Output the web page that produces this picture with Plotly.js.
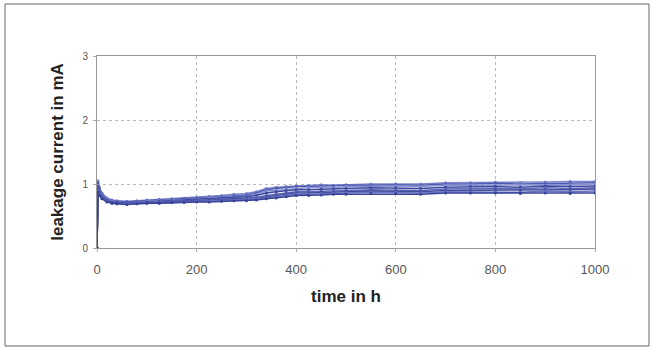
<!DOCTYPE html>
<html><head><meta charset="utf-8">
<script src="https://cdn.plot.ly/plotly-3.0.1.min.js"></script>
<style>html,body{margin:0;padding:0;background:#fff;}#chart{width:654px;height:349px;}</style>
</head><body><div id="chart"></div>
<script>
var timeH = [0, 2, 5, 10, 20, 30, 40, 60, 80, 100, 125, 150, 175, 200, 225, 250, 275, 300, 320, 340, 360, 380, 400, 425, 450, 475, 500, 550, 600, 650, 700, 750, 800, 850, 900, 950, 1000];
var sampleA = [0, 1.05, 0.95, 0.86, 0.78, 0.75, 0.74, 0.73, 0.74, 0.75, 0.76, 0.77, 0.78, 0.79, 0.81, 0.82, 0.84, 0.85, 0.88, 0.93, 0.95, 0.96, 0.97, 0.98, 0.99, 0.98, 0.99, 1.00, 1.00, 1.00, 1.02, 1.02, 1.03, 1.02, 1.03, 1.04, 1.04];
var sampleB = [0, 1.02, 0.92, 0.84, 0.77, 0.74, 0.73, 0.72, 0.73, 0.74, 0.75, 0.76, 0.77, 0.78, 0.79, 0.80, 0.82, 0.83, 0.86, 0.91, 0.93, 0.94, 0.96, 0.96, 0.97, 0.97, 0.98, 0.98, 0.99, 0.98, 1.00, 1.00, 1.01, 1.00, 1.01, 1.02, 1.02];
var sampleC = [0, 0.98, 0.90, 0.82, 0.76, 0.73, 0.72, 0.71, 0.72, 0.73, 0.74, 0.75, 0.75, 0.77, 0.78, 0.79, 0.80, 0.81, 0.84, 0.89, 0.90, 0.92, 0.93, 0.94, 0.95, 0.94, 0.96, 0.96, 0.97, 0.96, 0.98, 0.98, 0.98, 0.99, 0.98, 0.99, 1.00];
var sampleD = [0, 0.96, 0.88, 0.81, 0.75, 0.72, 0.71, 0.71, 0.71, 0.72, 0.73, 0.74, 0.74, 0.76, 0.76, 0.78, 0.79, 0.80, 0.82, 0.86, 0.88, 0.90, 0.91, 0.91, 0.92, 0.92, 0.93, 0.94, 0.94, 0.93, 0.95, 0.96, 0.96, 0.95, 0.97, 0.96, 0.97];
var sampleE = [0, 0.94, 0.86, 0.80, 0.74, 0.71, 0.70, 0.70, 0.71, 0.72, 0.72, 0.73, 0.74, 0.75, 0.75, 0.76, 0.77, 0.78, 0.79, 0.82, 0.84, 0.86, 0.88, 0.88, 0.89, 0.90, 0.90, 0.91, 0.91, 0.90, 0.92, 0.93, 0.93, 0.92, 0.94, 0.93, 0.94];
var sampleF = [0, 0.92, 0.85, 0.79, 0.74, 0.71, 0.70, 0.70, 0.70, 0.71, 0.71, 0.72, 0.73, 0.74, 0.74, 0.75, 0.76, 0.76, 0.77, 0.80, 0.82, 0.84, 0.86, 0.86, 0.87, 0.87, 0.88, 0.89, 0.89, 0.88, 0.90, 0.90, 0.91, 0.90, 0.91, 0.91, 0.92];
var sampleG = [0, 0.90, 0.84, 0.78, 0.73, 0.70, 0.69, 0.69, 0.70, 0.70, 0.70, 0.71, 0.72, 0.73, 0.73, 0.74, 0.75, 0.75, 0.76, 0.78, 0.80, 0.82, 0.84, 0.84, 0.85, 0.86, 0.86, 0.87, 0.87, 0.86, 0.88, 0.88, 0.88, 0.87, 0.89, 0.88, 0.89];
var sampleH = [0, 0.88, 0.82, 0.77, 0.72, 0.70, 0.69, 0.68, 0.69, 0.70, 0.70, 0.71, 0.71, 0.72, 0.72, 0.73, 0.74, 0.74, 0.75, 0.77, 0.78, 0.80, 0.82, 0.82, 0.83, 0.84, 0.84, 0.85, 0.85, 0.84, 0.86, 0.86, 0.86, 0.85, 0.86, 0.85, 0.86];
var seriesList = [sampleA, sampleB, sampleC, sampleD, sampleE, sampleF, sampleG, sampleH];
var colors = ['#7c84cc', '#4f5bb0', '#8890d2', '#3c48a0', '#5d67b8', '#404c9e', '#6a73bf', '#36429a'];
var xTicks = [0, 200, 400, 600, 800, 1000];
var yTicks = [0, 1, 2, 3];

var traces = seriesList.map(function (s, i) {
  return {x: timeH, y: s, type: 'scatter', mode: 'lines+markers',
    line: {color: colors[i], width: 1.5}, marker: {size: 3, color: colors[i]}, showlegend: false, hoverinfo: 'skip'};
});

var layout = {
  width: 654, height: 349,
  margin: {l: 97, r: 59, t: 56, b: 101},
  paper_bgcolor: '#ffffff', plot_bgcolor: '#ffffff',
  font: {family: 'Liberation Sans, Arial, sans-serif', color: '#444'},
  xaxis: {range: [0, 1000], tickvals: xTicks, ticktext: xTicks.map(String),
    showgrid: true, gridcolor: '#b8b8b8', griddash: 'dot', gridwidth: 1,
    showline: true, linecolor: '#999', linewidth: 1, mirror: true, zeroline: false,
    ticks: 'outside', ticklen: 3, tickcolor: '#aaa', ticklabelstandoff: 6, tickfont: {size: 13, color: '#555'},
    title: {text: '<b>time in h</b>', font: {size: 17, color: '#222'}, standoff: 14}},
  yaxis: {range: [0, 3], tickvals: yTicks, ticktext: yTicks.map(String),
    showgrid: true, gridcolor: '#b8b8b8', griddash: 'dot', gridwidth: 1,
    showline: true, linecolor: '#999', linewidth: 1, mirror: true, zeroline: false,
    ticks: 'outside', ticklen: 3, tickcolor: '#aaa', ticklabelstandoff: 3, tickfont: {size: 10, color: '#555'},
    title: {text: '<b>leakage current in mA</b>', font: {size: 17, color: '#222'}, standoff: 14}},
  shapes: [{type: 'rect', xref: 'paper', yref: 'paper', x0: -92/498, x1: 1 + 54/498, y0: -98/192, y1: 1 + 52/192,
    line: {color: '#666', width: 1}, fillcolor: 'rgba(0,0,0,0)', layer: 'below'}]
};
Plotly.newPlot('chart', traces, layout, {displayModeBar: false, staticPlot: true});
</script></body></html>
